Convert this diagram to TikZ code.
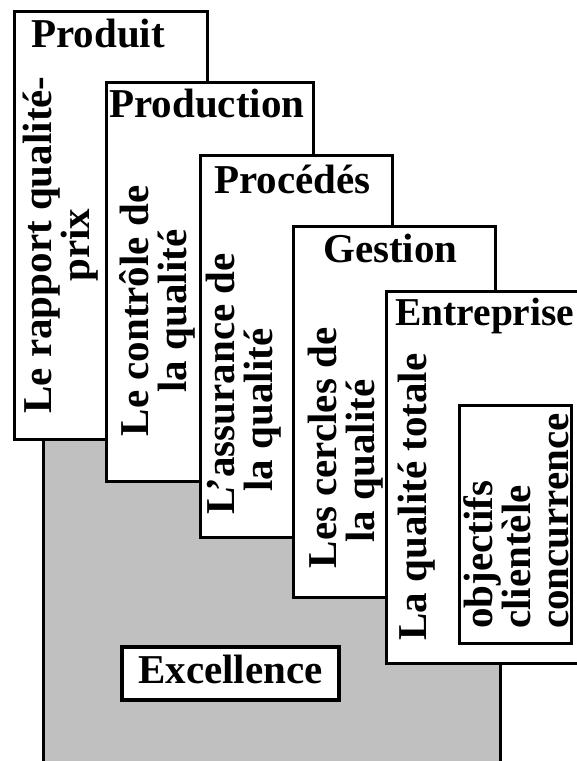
\documentclass[tikz,border=0pt]{standalone}
\usepackage{fontspec}
\setmainfont{Liberation Serif}
\definecolor{stepgrey}{RGB}{192,192,192}
\begin{document}
\begin{tikzpicture}[x=1pt,y=-1pt,
  panel/.style={draw=black, line width=3pt, fill=white, rectangle,
    inner sep=0pt, outer sep=0pt, anchor=north west},
  heading/.style={font=\fontsize{41}{38}\selectfont\bfseries,
    inner sep=0pt, anchor=base west},
  vtext/.style={font=\fontsize{41}{38}\selectfont\bfseries,
    inner sep=0pt, rotate=90, align=center},
]
\useasboundingbox (0,0) rectangle (577,761);
\clip (0,0) rectangle (577,761);

% grey base of the staircase
\draw[line width=3pt, fill=stepgrey] (43,430) rectangle (500,800);

% the five steps, each one in front of the previous
\node[panel, minimum width=193pt, minimum height=428pt] (p1) at (14,11) {};
\node[heading] (h1) at (31,47) {Produit};
\node[vtext] (t1) at (61,245) {Le rapport qualité-\\prix};

\node[panel, minimum width=207pt, minimum height=399pt] (p2) at (106,82) {};
\node[heading] (h2) at (109,117) {Production};
\node[vtext] (t2) at (157,311) {Le contrôle de\\la qualité};

\node[panel, minimum width=192pt, minimum height=382pt] (p3) at (200,155) {};
\node[heading] (h3) at (214,193) {Procédés};
\node[vtext] (t3) at (244,384) {L'assurance de\\la qualité\hspace*{52pt}};

\node[panel, minimum width=202pt, minimum height=371pt] (p4) at (293,226) {};
\node[heading] (h4) at (323,262) {Gestion};
\node[vtext] (t4) at (346,448) {Les cercles de\\la qualité\hspace*{26pt}};

\node[panel, minimum width=234pt, minimum height=372pt] (p5) at (386,291) {};
\node[heading, font=\fontsize{39.5}{38}\selectfont\bfseries] (h5) at (395,325) {Entreprise};
\node[vtext] (t5) at (417,497) {La qualité totale};

% inner frame of the last step
\node[panel, minimum width=112pt, minimum height=238pt] (p6) at (459,405) {};
\node[vtext, align=left] (t6) at (516,521) {objectifs\\clientèle\\concurrence};

% label on the grey base
\node[draw=black, line width=4pt, fill=white, inner sep=0pt, outer sep=0pt,
  minimum width=217pt, minimum height=53pt,
  font=\fontsize{41}{38}\selectfont\bfseries,
  text height=28pt, text depth=9pt] (ex) at (230.5,673.5) {Excellence};
\end{tikzpicture}
\end{document}
